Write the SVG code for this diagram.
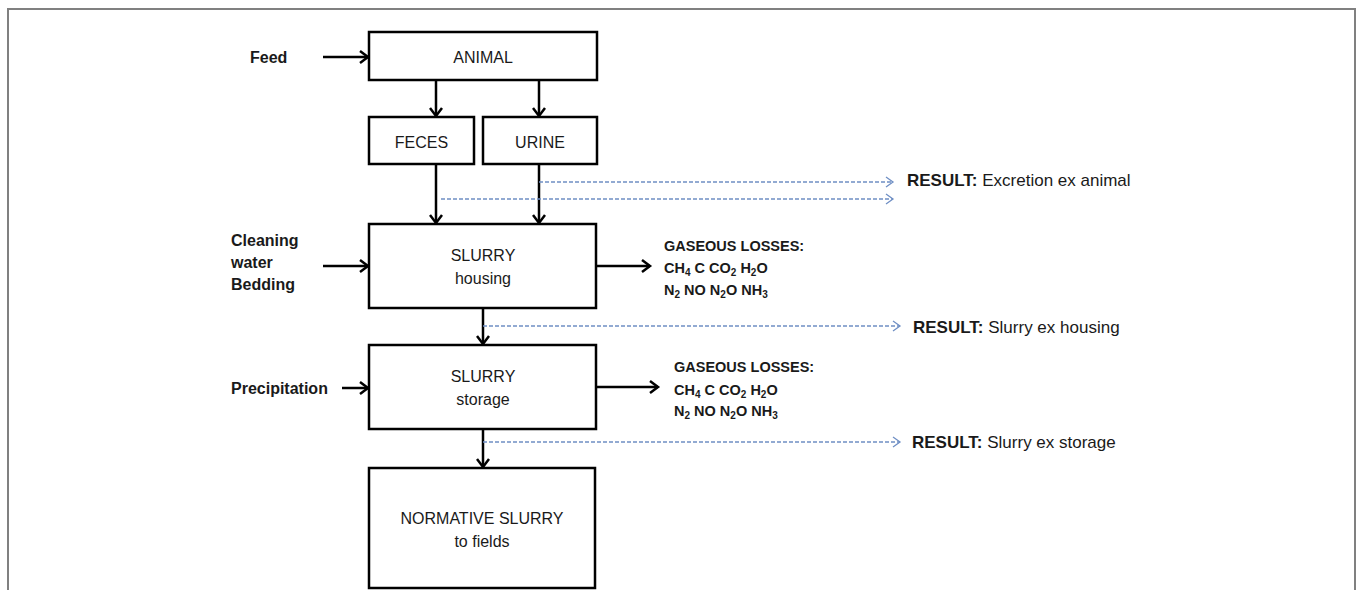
<svg xmlns="http://www.w3.org/2000/svg" width="1360" height="590" viewBox="0 0 1360 590">
  <defs>
    <marker id="ah" markerUnits="userSpaceOnUse" markerWidth="12" markerHeight="14" refX="9" refY="7" orient="auto">
      <path d="M1,1 L9,7 L1,13" fill="none" stroke="#000" stroke-width="2.5"/>
    </marker>
    <marker id="ahd" markerUnits="userSpaceOnUse" markerWidth="10" markerHeight="12" refX="8" refY="6" orient="auto">
      <path d="M1,1 L8,6 L1,11" fill="none" stroke="#6f8fc4" stroke-width="1.3"/>
    </marker>
  </defs>
  <style>
    .box { fill: #fff; stroke: #000; stroke-width: 2.5; }
    .t { font-family: "Liberation Sans", Arial, sans-serif; font-size: 16px; fill: #1a1a1a; }
    .r { font-size: 17px; }
    .c { text-anchor: middle; }
    .b { font-weight: bold; }
    .g { font-family: "Liberation Sans", Arial, sans-serif; font-size: 14.5px; fill: #1a1a1a; font-weight: bold; }
    .s { font-size: 10px; }
    .arr { fill: none; stroke: #000; stroke-width: 2.5; marker-end: url(#ah); }
    .dash { fill: none; stroke: #6f8fc4; stroke-width: 1.3; stroke-dasharray: 4 2; marker-end: url(#ahd); }
  </style>
  <rect width="1360" height="590" fill="#fff"/>
  <path d="M8,590 V9 H1355 V590" fill="none" stroke="#808080" stroke-width="2"/>

  <g id="connectors">
    <line class="arr" x1="323" y1="57" x2="368" y2="57"/>
    <line class="arr" x1="436" y1="80" x2="436" y2="116"/>
    <line class="arr" x1="539" y1="80" x2="539" y2="116"/>
    <line class="arr" x1="436" y1="164" x2="436" y2="223"/>
    <line class="arr" x1="539" y1="164" x2="539" y2="223"/>
    <line class="arr" x1="323" y1="266" x2="368" y2="266"/>
    <line class="arr" x1="596" y1="266" x2="650" y2="266"/>
    <line class="arr" x1="483" y1="308" x2="483" y2="344"/>
    <line class="arr" x1="342" y1="388" x2="368" y2="388"/>
    <line class="arr" x1="596" y1="387" x2="658" y2="387"/>
    <line class="arr" x1="483" y1="429" x2="483" y2="467"/>
    <line class="dash" x1="539" y1="182" x2="893" y2="182"/>
    <line class="dash" x1="441" y1="199" x2="893" y2="199"/>
    <line class="dash" x1="483" y1="326" x2="900" y2="326"/>
    <line class="dash" x1="483" y1="442" x2="900" y2="442"/>
  </g>

  <g id="animal">
    <rect class="box" x="369" y="32" width="228" height="48"/>
    <text class="t c" x="483" y="63">ANIMAL</text>
  </g>
  <g id="feces">
    <rect class="box" x="369" y="117" width="105" height="47"/>
    <text class="t c" x="421.5" y="148">FECES</text>
  </g>
  <g id="urine">
    <rect class="box" x="483" y="117" width="114" height="47"/>
    <text class="t c" x="540" y="148">URINE</text>
  </g>
  <g id="slurry-housing">
    <rect class="box" x="369" y="224" width="227" height="84"/>
    <text class="t c" x="483" y="261">SLURRY</text>
    <text class="t c" x="483" y="284">housing</text>
  </g>
  <g id="slurry-storage">
    <rect class="box" x="369" y="345" width="227" height="84"/>
    <text class="t c" x="483" y="382">SLURRY</text>
    <text class="t c" x="483" y="405">storage</text>
  </g>
  <g id="normative-slurry">
    <rect class="box" x="369" y="468" width="226" height="120"/>
    <text class="t c" x="482" y="524">NORMATIVE SLURRY</text>
    <text class="t c" x="482" y="547">to fields</text>
  </g>

  <g id="feed">
    <text class="t b" x="250" y="63">Feed</text>
  </g>
  <g id="cleaning">
    <text class="t b" x="231" y="246">Cleaning</text>
    <text class="t b" x="231" y="268">water</text>
    <text class="t b" x="231" y="290">Bedding</text>
  </g>
  <g id="precipitation">
    <text class="t b" x="231" y="394">Precipitation</text>
  </g>

  <g id="gaseous-housing">
    <text class="g" x="664" y="251">GASEOUS LOSSES:</text>
    <text class="g" x="664" y="273">CH<tspan class="s" dy="3">4</tspan><tspan dy="-3"> C CO</tspan><tspan class="s" dy="3">2</tspan><tspan dy="-3"> H</tspan><tspan class="s" dy="3">2</tspan><tspan dy="-3">O</tspan></text>
    <text class="g" x="664" y="295">N<tspan class="s" dy="3">2</tspan><tspan dy="-3"> NO N</tspan><tspan class="s" dy="3">2</tspan><tspan dy="-3">O NH</tspan><tspan class="s" dy="3">3</tspan></text>
  </g>
  <g id="gaseous-storage">
    <text class="g" x="674" y="372">GASEOUS LOSSES:</text>
    <text class="g" x="674" y="395">CH<tspan class="s" dy="3">4</tspan><tspan dy="-3"> C CO</tspan><tspan class="s" dy="3">2</tspan><tspan dy="-3"> H</tspan><tspan class="s" dy="3">2</tspan><tspan dy="-3">O</tspan></text>
    <text class="g" x="674" y="416">N<tspan class="s" dy="3">2</tspan><tspan dy="-3"> NO N</tspan><tspan class="s" dy="3">2</tspan><tspan dy="-3">O NH</tspan><tspan class="s" dy="3">3</tspan></text>
  </g>

  <g id="result-excretion">
    <text class="t r" x="907" y="186"><tspan class="b">RESULT:</tspan> Excretion ex animal</text>
  </g>
  <g id="result-housing">
    <text class="t r" x="913" y="333"><tspan class="b">RESULT:</tspan> Slurry ex housing</text>
  </g>
  <g id="result-storage">
    <text class="t r" x="912" y="448"><tspan class="b">RESULT:</tspan> Slurry ex storage</text>
  </g>
</svg>
